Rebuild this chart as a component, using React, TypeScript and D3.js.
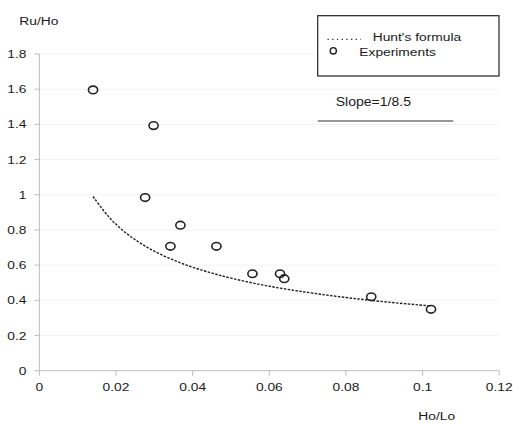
import React from "react";
import * as d3 from "d3";

const W = 513;
const H = 424;

// Experimental points (Ho/Lo, Ru/Ho)
const expX = [0.014, 0.0298, 0.0276, 0.0368, 0.0342, 0.0462, 0.0556, 0.0628, 0.0639, 0.0866, 0.1022];
const expY = [1.596, 1.393, 0.984, 0.827, 0.707, 0.707, 0.551, 0.551, 0.523, 0.42, 0.349];

// Hunt's formula curve
const huntX = [0.014, 0.018, 0.022, 0.026, 0.03, 0.035, 0.04, 0.045, 0.05, 0.06, 0.07, 0.08, 0.09, 0.102];
const huntY = [0.99, 0.877, 0.793, 0.73, 0.679, 0.629, 0.588, 0.555, 0.526, 0.48, 0.445, 0.416, 0.392, 0.368];

const xTicks = [0, 0.02, 0.04, 0.06, 0.08, 0.1, 0.12];
const xTickLabels = ["0", "0.02", "0.04", "0.06", "0.08", "0.1", "0.12"];
const yTicks = [0, 0.2, 0.4, 0.6, 0.8, 1, 1.2, 1.4, 1.6, 1.8];
const yTickLabels = ["0", "0.2", "0.4", "0.6", "0.8", "1", "1.2", "1.4", "1.6", "1.8"];

const FONT = "'Liberation Sans', Arial, sans-serif";
const SX = 1.2;

function T({ x, y, anchor = "start", size = 11.5, children, sx = SX }: any) {
  return (
    <text
      transform={`translate(${x},${y}) scale(${sx},1)`}
      textAnchor={anchor}
      fontFamily={FONT}
      fontSize={size}
      fill="#1a1a1a"
    >
      {children}
    </text>
  );
}

export default function App() {
  const x = d3.scaleLinear().domain([0, 0.12]).range([39.4, 499.2]);
  const y = d3.scaleLinear().domain([0, 1.8]).range([370.7, 54]);

  const huntPts: [number, number][] = huntX.map((v, i) => [v, huntY[i]]);
  const line = d3
    .line<[number, number]>()
    .x((d) => x(d[0]))
    .y((d) => y(d[1]))
    .curve(d3.curveCatmullRom.alpha(0.5));

  return (
    <svg
      width={W}
      height={H}
      style={{ position: "absolute", left: 0, top: 0, background: "#fff" }}
    >
      <rect x={0} y={0} width={W} height={H} fill="#fff" />
      {/* gridlines */}
      {yTicks.slice(1).map((t) => (
        <line key={"g" + t} x1={x(0)} x2={x(0.12)} y1={y(t)} y2={y(t)} stroke="#f2f2f2" strokeWidth={1} />
      ))}
      {/* axes */}
      <line x1={x(0)} x2={x(0)} y1={y(0)} y2={y(1.8)} stroke="#bdbdbd" strokeWidth={1} />
      <line x1={x(0)} x2={x(0.12)} y1={y(0)} y2={y(0)} stroke="#bdbdbd" strokeWidth={1} />
      {yTicks.map((t, i) => (
        <g key={"yt" + t}>
          <line x1={x(0) - 5} x2={x(0)} y1={y(t)} y2={y(t)} stroke="#bdbdbd" strokeWidth={1} />
          <T x={26.5} y={y(t) + 4} anchor="end">
            {yTickLabels[i]}
          </T>
        </g>
      ))}
      {xTicks.map((t, i) => (
        <g key={"xt" + t}>
          <line x1={x(t)} x2={x(t)} y1={y(0)} y2={y(0) + 5} stroke="#bdbdbd" strokeWidth={1} />
          <T x={x(t)} y={390.7} anchor="middle">
            {xTickLabels[i]}
          </T>
        </g>
      ))}
      <T x={19.3} y={25}>Ru/Ho</T>
      <T x={418.3} y={420}>Ho/Lo</T>

      {/* Hunt's formula */}
      <path d={line(huntPts) || ""} fill="none" stroke="#222" strokeWidth={1.4} strokeDasharray="2.5,1.4" />

      {/* Experiments */}
      {expX.map((v, i) => (
        <ellipse
          key={"p" + i}
          cx={x(v)}
          cy={y(expY[i])}
          rx={4.6}
          ry={3.8}
          fill="none"
          stroke="#222"
          strokeWidth={1.6}
        />
      ))}

      {/* legend */}
      <rect x={317.7} y={15.7} width={181.3} height={60.3} fill="#fff" stroke="#222" strokeWidth={1.2} />
      <line x1={327.5} x2={361} y1={39.3} y2={39.3} stroke="#333" strokeWidth={1.3} strokeDasharray="1.3,3.4" />
      <T x={372.7} y={40.7}>Hunt's formula</T>
      <ellipse cx={333.3} cy={50.8} rx={3.1} ry={3.2} fill="none" stroke="#222" strokeWidth={1.4} />
      <T x={359.3} y={56}>Experiments</T>

      {/* slope annotation */}
      <T x={335.7} y={106} size={12} sx={1.17}>Slope=1/8.5</T>
      <line x1={317.7} x2={453.3} y1={121} y2={121} stroke="#333" strokeWidth={1.2} />
    </svg>
  );
}
